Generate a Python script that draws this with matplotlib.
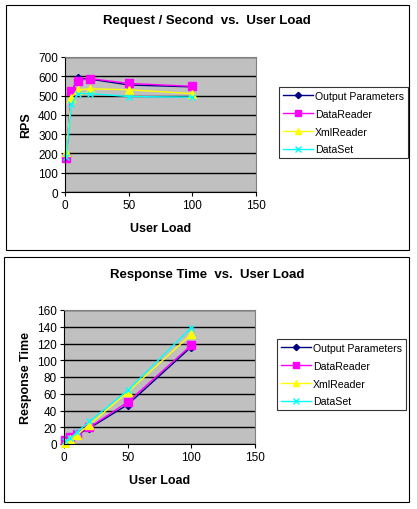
import matplotlib
matplotlib.use("Agg")
import matplotlib.pyplot as plt
from matplotlib.patches import Rectangle

plt.rcParams['font.family'] = ['Liberation Sans', 'DejaVu Sans']

user_load = [1, 5, 10, 20, 50, 100]
series_names = ['Output Parameters', 'DataReader', 'XmlReader', 'DataSet']

rps_output = [180, 515, 590, 585, 555, 545]
rps_datareader = [178, 525, 578, 588, 563, 548]
rps_xmlreader = [205, 490, 530, 535, 530, 510]
rps_dataset = [180, 455, 510, 510, 495, 492]

rt_output = [5, 8, 11, 19, 47, 116]
rt_datareader = [5, 8, 12, 20, 50, 118]
rt_xmlreader = [1, 6, 11, 23, 62, 131]
rt_dataset = [3, 7, 14, 27, 64, 139]

styles = [
    dict(color='#000080', marker='D', ms=4),
    dict(color='#FF00FF', marker='s', ms=6),
    dict(color='#FFFF00', marker='^', ms=6),
    dict(color='#00FFFF', marker='x', ms=5, mew=1),
]

W, H = 417, 510
fig = plt.figure(figsize=(W / 100, H / 100), dpi=100)
fig.patch.set_facecolor('white')


def px_rect(x0, y0, x1, y1):
    return [x0 / W, 1 - y1 / H, (x1 - x0) / W, (y1 - y0) / H]


def frame(x0, y0, x1, y1):
    fig.patches.append(Rectangle((x0 / W, 1 - y1 / H), (x1 - x0) / W, (y1 - y0) / H,
                                 transform=fig.transFigure, fill=False,
                                 ec='black', lw=0.8))


def draw_chart(ax_box, leg_box, title_y, title, ylabel, data, ymax, ystep):
    ax = fig.add_axes(px_rect(*ax_box))
    ax.set_facecolor('#C0C0C0')
    for vals, name, st in zip(data, series_names, styles):
        ax.plot(user_load, vals, lw=1, label=name, clip_on=False, **st)
    ax.set_xlim(0, 150)
    ax.set_ylim(0, ymax)
    ax.set_xticks(range(0, 151, 50))
    ax.set_yticks(range(0, ymax + 1, ystep))
    ax.yaxis.grid(True, color='black', lw=1)
    ax.set_axisbelow(True)
    for s in ['top', 'right']:
        ax.spines[s].set_color('#808080')
        ax.spines[s].set_linewidth(0.8)
    for s in ['left', 'bottom']:
        ax.spines[s].set_color('black')
        ax.spines[s].set_linewidth(0.8)
    ax.tick_params(labelsize=8.5, length=3, width=0.8, direction='out', pad=2)
    ax.set_xlabel('User Load', fontsize=9, fontweight='bold', labelpad=8)
    ax.set_ylabel(ylabel, fontsize=9, fontweight='bold', labelpad=4)
    fig.text(207 / W, 1 - title_y / H, title,
             ha='center', va='center', fontsize=9.5, fontweight='bold')
    lx0, ly0, lx1, ly1 = leg_box
    handles, labels = ax.get_legend_handles_labels()
    leg = fig.legend(handles, labels,
                     loc='upper left', bbox_to_anchor=(lx0 / W, 1 - ly0 / H),
                     fontsize=7.6, frameon=True, fancybox=False,
                     edgecolor='black', borderpad=0.35, labelspacing=0.75,
                     handlelength=2.9, handletextpad=0.15, borderaxespad=0,
                     markerscale=0.8)
    leg.get_frame().set_linewidth(0.8)
    return ax


frame(6, 6, 409, 251)
frame(4, 258, 409, 503)

draw_chart((65, 58, 256, 193), (279, 88, 406, 163), 21,
           'Request / Second  vs.  User Load', 'RPS',
           [rps_output, rps_datareader, rps_xmlreader, rps_dataset], 700, 100)
draw_chart((64, 311, 255, 445), (277, 340, 404, 416), 275,
           'Response Time  vs.  User Load', 'Response Time',
           [rt_output, rt_datareader, rt_xmlreader, rt_dataset], 160, 20)

fig.savefig('out.png', dpi=100)
